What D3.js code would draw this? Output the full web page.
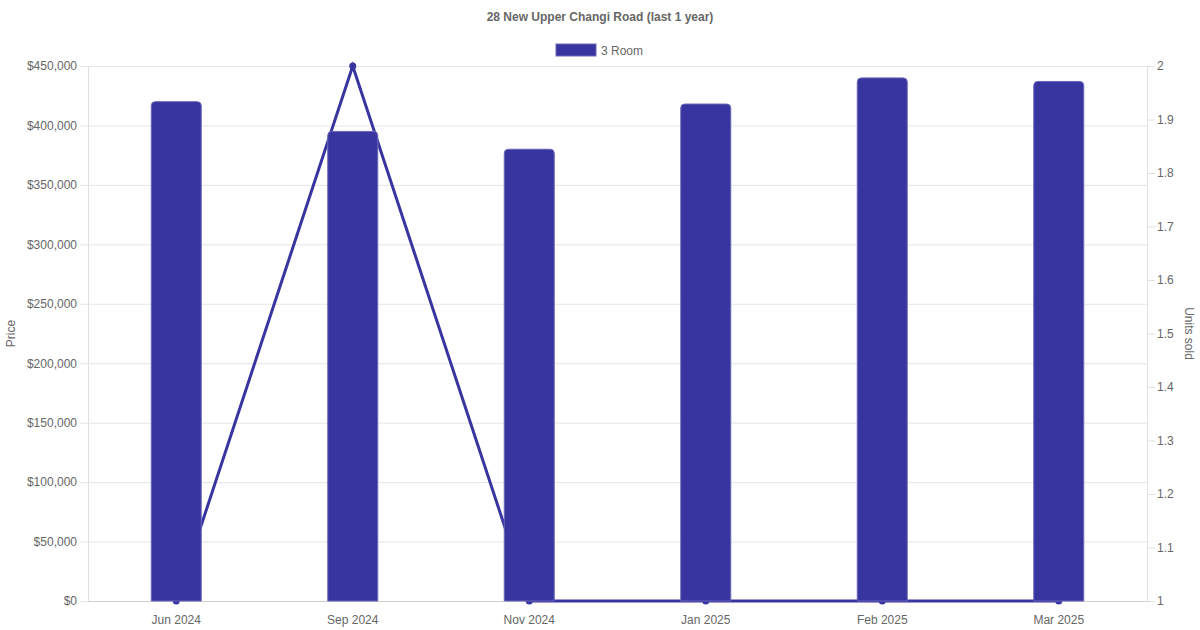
<!DOCTYPE html>
<html>
<head>
<meta charset="utf-8">
<title>28 New Upper Changi Road</title>
<script src="https://d3js.org/d3.v7.min.js"></script>
<style>
  body { margin: 0; background: #fff; }
  svg { font-family: "Liberation Sans", Arial, sans-serif; }
  .tick text { fill: #666; font-size: 12px; }
  .grid line { stroke: #e5e5e5; }
</style>
</head>
<body>
<svg id="chart" width="1200" height="630"></svg>
<script>
// data
let months = ['Jun 2024', 'Sep 2024', 'Nov 2024', 'Jan 2025', 'Feb 2025', 'Mar 2025'];
let prices = [420000, 395000, 380000, 418000, 440000, 437000];
let unitsSold = [1, 2, 1, 1, 1, 1];
let priceTicks = [0, 50000, 100000, 150000, 200000, 250000, 300000, 350000, 400000, 450000];
let unitTicks = [1, 1.1, 1.2, 1.3, 1.4, 1.5, 1.6, 1.7, 1.8, 1.9, 2];

let colour = '#3935a0';
let margin = { left: 88, right: 53, top: 66, bottom: 29 };
let W = 1200, H = 630;

let svg = d3.select('#chart');

let x = d3.scaleBand()
    .domain(months)
    .range([margin.left, W - margin.right]);
let yPrice = d3.scaleLinear()
    .domain([0, 450000])
    .range([H - margin.bottom, margin.top]);
let yUnits = d3.scaleLinear()
    .domain([1, 2])
    .range([H - margin.bottom, margin.top]);

// grid from the price axis
svg.append('g')
    .attr('class', 'grid')
    .selectAll('line')
    .data(priceTicks)
    .join('line')
        .attr('x1', margin.left - 8)
        .attr('x2', W - margin.right)
        .attr('y1', d => yPrice(d) + 0.5)
        .attr('y2', d => yPrice(d) + 0.5);

// left axis labels
let fmt = d => '$' + d3.format(',')(d);
let left = svg.append('g')
    .attr('transform', 'translate(' + margin.left + ',0)')
    .call(d3.axisLeft(yPrice).tickValues(priceTicks).tickFormat(fmt).tickSize(0).tickPadding(11));
left.select('.domain').attr('stroke', '#e0e0e0');

// right axis
let right = svg.append('g')
    .attr('transform', 'translate(' + (W - margin.right) + ',0)')
    .call(d3.axisRight(yUnits).tickValues(unitTicks).tickFormat(d3.format('')).tickSize(8).tickPadding(2));
right.select('.domain').attr('stroke', '#e0e0e0');
right.selectAll('.tick line').attr('stroke', '#e0e0e0');

// bottom axis
let bottom = svg.append('g')
    .attr('transform', 'translate(0,' + (H - margin.bottom) + ')')
    .call(d3.axisBottom(x).tickSize(0).tickPadding(14));
bottom.select('.domain').attr('stroke', '#d0d0d0');
bottom.selectAll('.tick line').remove();

// units line, drawn under the bars
let line = d3.line()
    .x((d, i) => x(months[i]) + x.bandwidth() / 2)
    .y(d => yUnits(d));
svg.append('path')
    .datum(unitsSold)
    .attr('d', line)
    .attr('fill', 'none')
    .attr('stroke', colour)
    .attr('stroke-width', 3)
    .attr('stroke-linejoin', 'miter');
svg.append('g')
    .selectAll('circle')
    .data(unitsSold)
    .join('circle')
        .attr('cx', (d, i) => x(months[i]) + x.bandwidth() / 2)
        .attr('cy', d => yUnits(d))
        .attr('r', 3.5)
        .attr('fill', colour);

// bars with rounded tops
let barW = 50, r = 4;
function barPath(cx, top, base) {
    let x0 = cx - barW / 2, x1 = cx + barW / 2;
    return 'M' + x0 + ',' + base +
        'V' + (top + r) +
        'Q' + x0 + ',' + top + ' ' + (x0 + r) + ',' + top +
        'H' + (x1 - r) +
        'Q' + x1 + ',' + top + ' ' + x1 + ',' + (top + r) +
        'V' + base + 'Z';
}
svg.append('g')
    .selectAll('path')
    .data(prices)
    .join('path')
        .attr('d', (d, i) => barPath(x(months[i]) + x.bandwidth() / 2, yPrice(d), yPrice(0)))
        .attr('fill', colour)
        .attr('stroke', '#6a67b8')
        .attr('stroke-width', 1);

// title
svg.append('text')
    .attr('x', W / 2)
    .attr('y', 21)
    .attr('text-anchor', 'middle')
    .attr('font-size', 12)
    .attr('font-weight', 'bold')
    .attr('fill', '#666')
    .text('28 New Upper Changi Road (last 1 year)');

// legend
let legend = svg.append('g').attr('transform', 'translate(556,44)');
legend.append('rect')
    .attr('width', 40).attr('height', 12)
    .attr('fill', colour)
    .attr('stroke', '#6a67b8');
legend.append('text')
    .attr('x', 45).attr('y', 10.5)
    .attr('font-size', 12)
    .attr('fill', '#666')
    .text('3 Room');

// axis titles
svg.append('text')
    .attr('transform', 'translate(15,' + ((margin.top + H - margin.bottom) / 2) + ') rotate(-90)')
    .attr('text-anchor', 'middle')
    .attr('font-size', 12)
    .attr('fill', '#666')
    .text('Price');
svg.append('text')
    .attr('transform', 'translate(1185,' + ((margin.top + H - margin.bottom) / 2) + ') rotate(90)')
    .attr('text-anchor', 'middle')
    .attr('font-size', 12)
    .attr('fill', '#666')
    .text('Units sold');
</script>
</body>
</html>
